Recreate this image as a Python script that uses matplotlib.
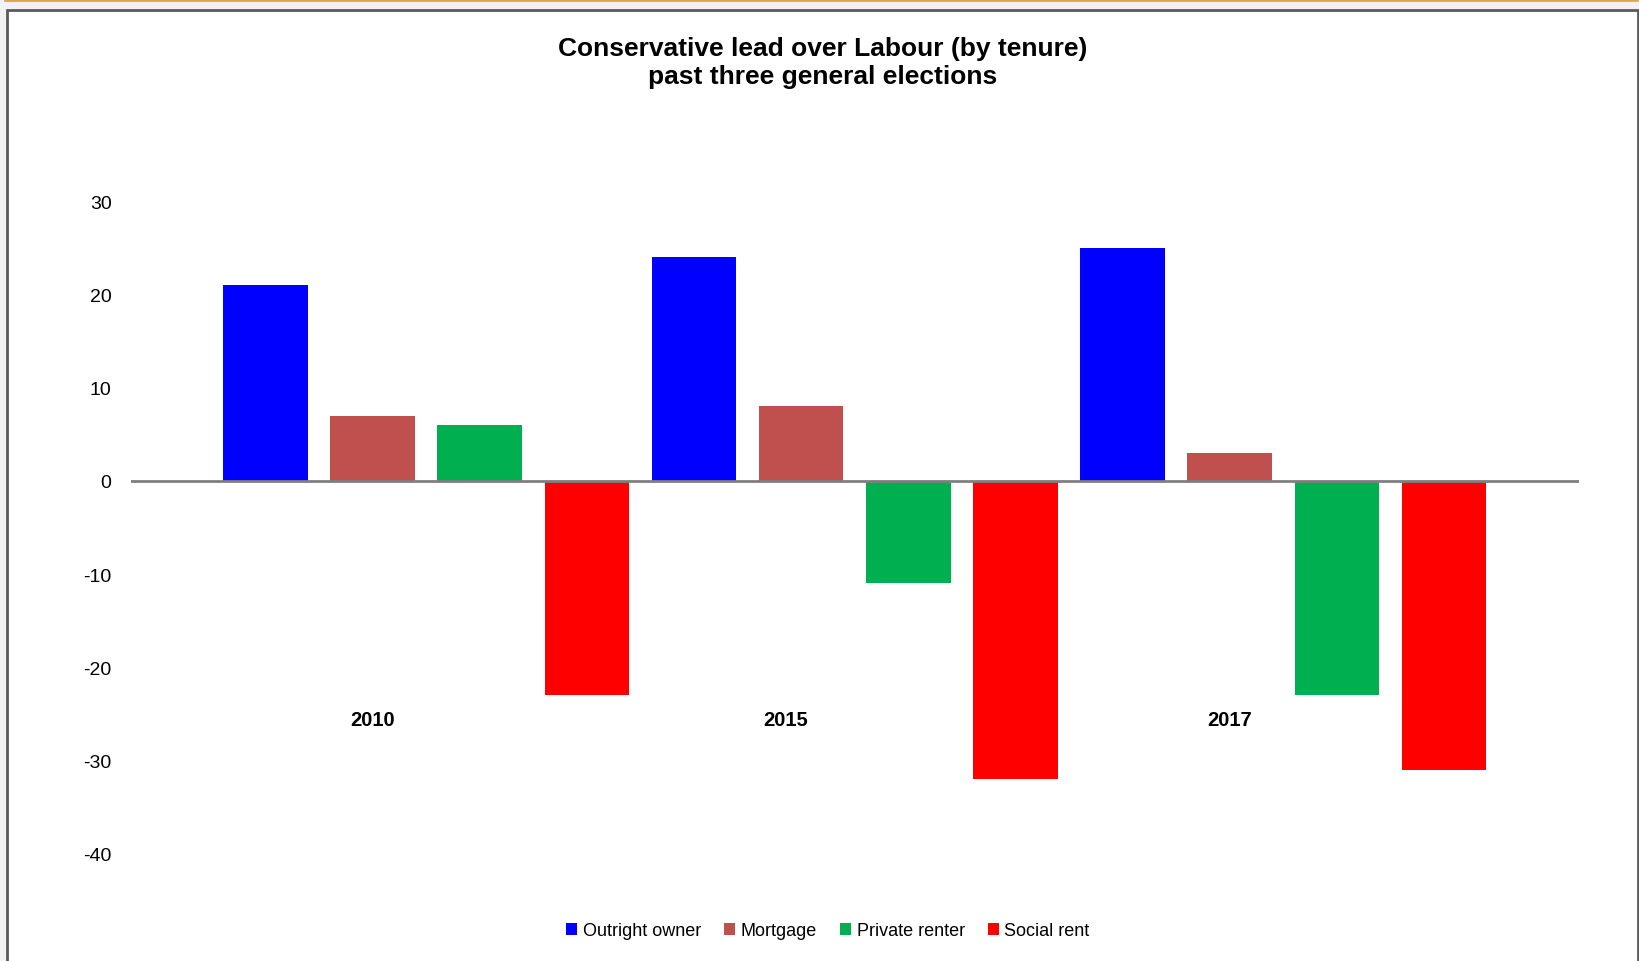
import numpy as np
import matplotlib.pyplot as plt
from matplotlib.patches import Rectangle
from matplotlib.lines import Line2D

plt.rcParams['font.family'] = ['Liberation Sans', 'DejaVu Sans']
plt.rcParams['axes.unicode_minus'] = False

# data
years = ['2010', '2015', '2017']
tenures = ['Outright owner', 'Mortgage', 'Private renter', 'Social rent']
outright = [21, 24, 25]
mortgage = [7, 8, 3]
private_renter = [6, -11, -23]
social_rent = [-23, -32, -31]
colors = ['#0000ff', '#c0504d', '#00b050', '#ff0000']

series = [outright, mortgage, private_renter, social_rent]

fig = plt.figure(figsize=(16.4, 9.62), dpi=100)
fig.patch.set_facecolor('#f2f2f2')

# white chart frame like the spreadsheet screenshot
fig.patches.append(Rectangle((7 / 1640, -0.01), 1631 / 1640, 1 - 11 / 962 + 0.01,
                             transform=fig.transFigure, facecolor='white',
                             edgecolor='#5a5a5a', linewidth=2, zorder=-10))
fig.lines.append(Line2D([5 / 1640, 1637 / 1640], [1 - 1 / 962, 1 - 1 / 962],
                        transform=fig.transFigure, color='#e0a840', linewidth=2, zorder=-10))

ax = fig.add_axes([0.0799, 0.1117, 0.8829, 0.678])
ax.set_facecolor('none')
ax.set_zorder(1)

n = len(tenures)
for j, (vals, c) in enumerate(zip(series, colors)):
    x = np.arange(len(years)) * n + j
    ax.bar(x, vals, width=0.79, color=c, label=tenures[j], zorder=2)

ax.axhline(0, color='#7f7f7f', linewidth=2, zorder=3)

# category labels sit low in the plot area
for i, y in enumerate(years):
    ax.text(i * n + 1 - (0.14 if i == 1 else 0), -25.6, y, ha='center', va='center',
            fontsize=14.5, fontweight='bold')

ax.set_xlim(-1.254, 12.26)
ax.set_ylim(-40, 30)
ax.set_yticks(range(-40, 31, 10))
ax.set_xticks([])
ax.tick_params(axis='y', length=0, labelsize=14, pad=14)
for s in ax.spines.values():
    s.set_visible(False)

fig.text(823 / 1640, 1 - 63 / 962, 'Conservative lead over Labour (by tenure)\npast three general elections',
         ha='center', va='center', fontsize=19, fontweight='bold', linespacing=1.2)

fig.legend(loc='center', bbox_to_anchor=(828 / 1640, 1 - 932 / 962), ncol=4, frameon=False,
           fontsize=13, handlelength=0.6, handleheight=0.6, handletextpad=0.3,
           columnspacing=1.3)

fig.savefig('out.png', dpi=100, facecolor=fig.get_facecolor())
